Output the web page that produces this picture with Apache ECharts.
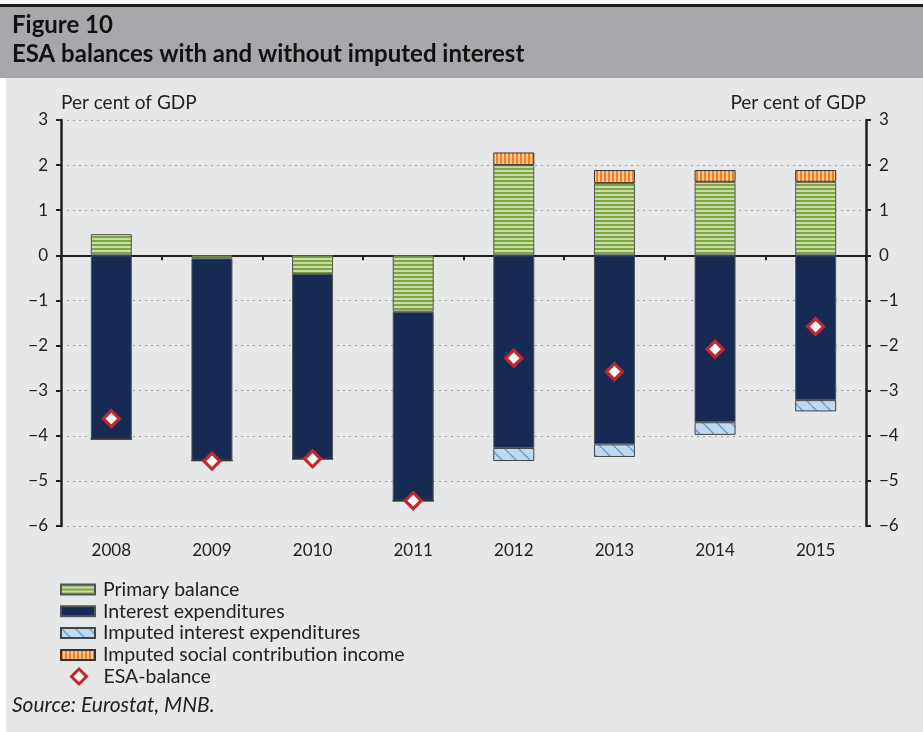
<!DOCTYPE html>
<html>
<head>
<meta charset="utf-8">
<title>ESA balances with and without imputed interest</title>
<script src="https://cdn.jsdelivr.net/npm/echarts@6/dist/echarts.min.js"></script>
<style>
    html, body { margin: 0; padding: 0; background: #fff; }
    #chart { width: 923px; height: 732px; }
</style>
</head>
<body>
<div id="chart"></div>
<script>
    var years = ['2008', '2009', '2010', '2011', '2012', '2013', '2014', '2015'];
    var primaryBalance = [0.47, -0.07, -0.41, -1.25, 2.0, 1.6, 1.63, 1.63];
    var interestExp = [-4.07, -4.48, -4.10, -4.19, -4.27, -4.19, -3.70, -3.21];
    var imputedInterest = [0, 0, 0, 0, -0.29, -0.28, -0.28, -0.25];
    var imputedSocial = [0, 0, 0, 0, 0.28, 0.29, 0.26, 0.26];
    var esaBalance = [-3.62, -4.56, -4.51, -5.44, -2.28, -2.58, -2.08, -1.58];

    var fontName = 'Lato, "Open Sans", sans-serif';

    // 条纹填充
    var makePattern = function (w, h, draw) {
        var c = document.createElement('canvas');
        c.width = w;
        c.height = h;
        draw(c.getContext('2d'));
        return { image: c, repeat: 'repeat' };
    };

    var greenStripes = makePattern(4, 4, function (ctx) {
        ctx.fillStyle = '#c8dca6';
        ctx.fillRect(0, 0, 4, 4);
        ctx.fillStyle = '#7fa543';
        ctx.fillRect(0, 0, 4, 2);
    });
    var orangeStripes = makePattern(4, 4, function (ctx) {
        ctx.fillStyle = '#fcc895';
        ctx.fillRect(0, 0, 4, 4);
        ctx.fillStyle = '#f47f20';
        ctx.fillRect(0, 0, 2, 4);
    });
    var blueHatch = makePattern(14, 14, function (ctx) {
        ctx.fillStyle = '#c0d9ef';
        ctx.fillRect(0, 0, 14, 14);
        ctx.strokeStyle = '#5d9fd6';
        ctx.lineWidth = 1.4;
        ctx.beginPath();
        ctx.moveTo(-2, -2);
        ctx.lineTo(16, 16);
        ctx.stroke();
    });

    var minusLabel = function (v) {
        return v < 0 ? '\u2212' + Math.abs(v) : String(v);
    };

    var myChart = echarts.init(document.getElementById('chart'));

    var option = {
        animation: false,
        textStyle: { fontFamily: fontName },
        graphic: [
            { type: 'rect', z: -10, silent: true, shape: { x: 0, y: 7, width: 923, height: 71 }, style: { fill: '#a7a8ab' } },
            { type: 'rect', z: -10, silent: true, shape: { x: 0, y: 4, width: 923, height: 3 }, style: { fill: '#231f20' } },
            { type: 'rect', z: -10, silent: true, shape: { x: 6, y: 78, width: 917, height: 654 }, style: { fill: '#e6e7e8' } },
            { type: 'text', left: 12, top: 13, style: { text: 'Figure 10', font: 'bold 24px ' + fontName, fill: '#111' } },
            { type: 'text', left: 12, top: 42, style: { text: 'ESA balances with and without imputed interest', font: 'bold 24px ' + fontName, fill: '#111' } },
            { type: 'text', left: 12, top: 695, style: { text: 'Source: Eurostat, MNB.', font: 'italic 21px ' + fontName, fill: '#222' } }
        ],
        grid: {
            left: 61,
            right: 57,
            top: 120,
            bottom: 206
        },
        legend: [
            {
                orient: 'vertical',
                left: 60,
                top: 579.5,
                padding: 0,
                icon: 'rect',
                itemWidth: 34,
                itemHeight: 10,
                itemGap: 1.8,
                textStyle: { fontSize: 19.5, color: '#222', lineHeight: 20, padding: [0, 0, 0, 3] },
                data: ['Primary balance', 'Interest expenditures', 'Imputed interest expenditures', 'Imputed social contribution income']
            },
            {
                orient: 'vertical',
                left: 70,
                top: 666.5,
                padding: 0,
                itemWidth: 15,
                itemHeight: 15,
                itemStyle: { borderWidth: 3 },
                textStyle: { fontSize: 19.5, color: '#222', lineHeight: 20, padding: [0, 0, 0, 12] },
                data: ['ESA-balance']
            }
        ],
        xAxis: [
            {
                type: 'category',
                data: years,
                axisLine: { onZero: true, lineStyle: { color: '#231f20', width: 2 } },
                axisTick: { show: true, length: 5, lineStyle: { color: '#231f20', width: 2 } },
                axisLabel: { show: false },
                splitLine: { show: false }
            },
            {
                type: 'category',
                data: years,
                position: 'bottom',
                axisLine: { show: false, onZero: false },
                axisTick: { show: false },
                axisLabel: { fontSize: 17, color: '#222', margin: 16 },
                splitLine: { show: false }
            }
        ],
        yAxis: [
            {
                type: 'value',
                min: -6,
                max: 3,
                interval: 1,
                position: 'left',
                name: 'Per cent of GDP',
                nameLocation: 'end',
                nameGap: 17,
                nameTextStyle: { fontSize: 19, color: '#222', align: 'left', verticalAlign: 'middle' },
                axisLine: { show: true, lineStyle: { color: '#231f20', width: 2.5 } },
                axisTick: { show: true, length: 5, lineStyle: { color: '#231f20', width: 2 } },
                axisLabel: { fontSize: 17, color: '#222', margin: 13, formatter: minusLabel },
                splitLine: { show: true, lineStyle: { color: '#9b9b9b', width: 1, type: [2, 4] } }
            },
            {
                type: 'value',
                min: -6,
                max: 3,
                interval: 1,
                position: 'right',
                name: 'Per cent of GDP',
                nameLocation: 'end',
                nameGap: 17,
                nameTextStyle: { fontSize: 19, color: '#222', align: 'right', verticalAlign: 'middle' },
                axisLine: { show: true, lineStyle: { color: '#231f20', width: 2.5 } },
                axisTick: { show: true, length: 5, lineStyle: { color: '#231f20', width: 2 } },
                axisLabel: { fontSize: 17, color: '#222', margin: 13, formatter: minusLabel },
                splitLine: { show: false }
            }
        ],
        series: [
            {
                name: 'Primary balance',
                type: 'bar',
                stack: 'esa',
                barWidth: 41,
                data: primaryBalance,
                itemStyle: { color: greenStripes, borderColor: '#555', borderWidth: 1 }
            },
            {
                name: 'Interest expenditures',
                type: 'bar',
                stack: 'esa',
                barWidth: 41,
                data: interestExp,
                itemStyle: { color: '#172a54', borderColor: '#555', borderWidth: 1 }
            },
            {
                name: 'Imputed interest expenditures',
                type: 'bar',
                stack: 'esa',
                barWidth: 41,
                data: imputedInterest,
                itemStyle: { color: blueHatch, borderColor: '#444', borderWidth: 1 }
            },
            {
                name: 'Imputed social contribution income',
                type: 'bar',
                stack: 'esa',
                barWidth: 41,
                data: imputedSocial,
                itemStyle: { color: orangeStripes, borderColor: '#333', borderWidth: 1 }
            },
            {
                name: 'ESA-balance',
                type: 'scatter',
                symbol: 'diamond',
                symbolSize: 16,
                z: 5,
                data: esaBalance,
                itemStyle: { color: '#ffffff', borderColor: '#c1272d', borderWidth: 3.2, opacity: 1 }
            }
        ]
    };
    myChart.setOption(option);
</script>
</body>
</html>
